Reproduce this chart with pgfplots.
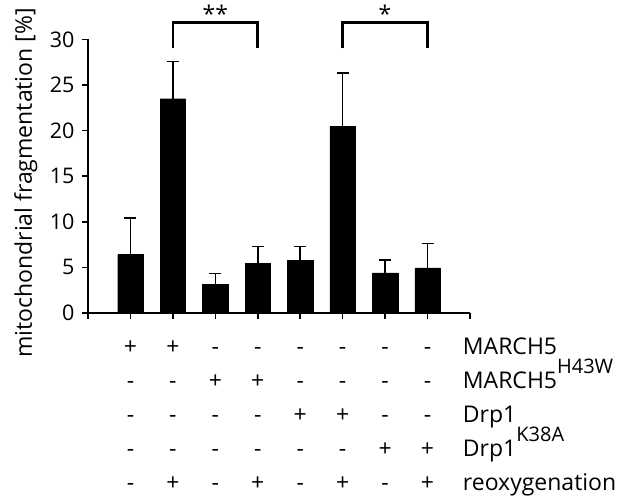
\documentclass[border=0pt]{standalone}
\usepackage{fontspec}
\setmainfont{Open Sans}
\usepackage{pgfplots}
\pgfplotsset{compat=1.18}
\pgfplotstableread{
x y e
1 6.4 4.0
2 23.5 4.1
3 3.15 1.2
4 5.45 1.85
5 5.75 1.55
6 20.5 5.8
7 4.4 1.4
8 4.95 2.65
}\bars
\newcommand{\tabfont}{\fontsize{23}{23}\selectfont}
\newcommand{\supfont}{\fontsize{20}{20}\selectfont}
\newcommand{\sg}[3]{\node[anchor=base, inner sep=0, font=\tabfont] at (axis cs:#1,#2) {#3};}
\newcommand{\row}[9]{\sg{1}{#1}{#2}\sg{2}{#1}{#3}\sg{3}{#1}{#4}\sg{4}{#1}{#5}\sg{5}{#1}{#6}\sg{6}{#1}{#7}\sg{7}{#1}{#8}\sg{8}{#1}{#9}}
\begin{document}
\begin{tikzpicture}
\begin{axis}[
  scale only axis, width=382pt, height=273.5pt,
  xmin=0, xmax=9, ymin=0, ymax=30,
  axis x line*=bottom, axis y line*=left,
  axis line style={line width=1.6pt, -},
  xtick={0,...,9}, xticklabels={},
  ytick={0,5,...,30},
  tick align=outside, major tick length=6pt,
  tick style={line width=1.5pt, black},
  ticklabel style={font=\fontsize{21.5}{21.5}\selectfont},
  yticklabel style={xshift=-4pt},
  /pgf/number format/assume math mode=true,
  clip=false,
]
\addplot[ybar, bar width=0.6, fill=black, draw=black,
  error bars/.cd, y dir=plus, y explicit,
  error bar style={line width=1.5pt, black},
  error mark options={rotate=90, mark size=6pt, line width=1.5pt, black}]
  table[x=x, y=y, y error=e] {\bars};
% significance brackets
\draw[line width=2.6pt] (axis cs:2,29.06) |- (axis cs:4,31.84) -- (axis cs:4,29.06);
\draw[line width=2.6pt] (axis cs:6,29.06) |- (axis cs:8,31.84) -- (axis cs:8,29.06);
\node[anchor=north, inner sep=0, font=\fontsize{23}{23}\selectfont] at (axis cs:3,33.8) {**};
\node[anchor=north, inner sep=0, font=\fontsize{23}{23}\selectfont] at (axis cs:7,33.8) {*};
% y label
\node[rotate=90, anchor=base, inner sep=0, font=\tabfont] at (axis cs:-1.32,14.26) {mitochondrial fragmentation [\%]};
% condition table
\row{-4.55}{+}{+}{-}{-}{-}{-}{-}{-}
\row{-8.27}{-}{-}{+}{+}{-}{-}{-}{-}
\row{-11.99}{-}{-}{-}{-}{+}{+}{-}{-}
\row{-15.70}{-}{-}{-}{-}{-}{-}{+}{+}
\row{-19.43}{-}{+}{-}{+}{-}{+}{-}{+}
\node[anchor=base west, inner sep=0, font=\tabfont] at (axis cs:8.83,-4.55) {MARCH5};
\node[anchor=base west, inner sep=0, font=\tabfont] at (axis cs:8.83,-8.27) {MARCH5\raisebox{15pt}{\supfont H43W}};
\node[anchor=base west, inner sep=0, font=\tabfont] at (axis cs:8.83,-11.99) {Drp1};
\node[anchor=base west, inner sep=0, font=\tabfont] at (axis cs:8.83,-15.70) {Drp1\raisebox{15pt}{\supfont K38A}};
\node[anchor=base west, inner sep=0, font=\tabfont] at (axis cs:8.83,-19.43) {reoxygenation};
\coordinate (tl) at (axis cs:-2.074,34.33);
\coordinate (br) at (axis cs:12.606,-20.51);
\end{axis}
\pgfresetboundingbox
\path[use as bounding box] (tl) rectangle (br);
\end{tikzpicture}
\end{document}
